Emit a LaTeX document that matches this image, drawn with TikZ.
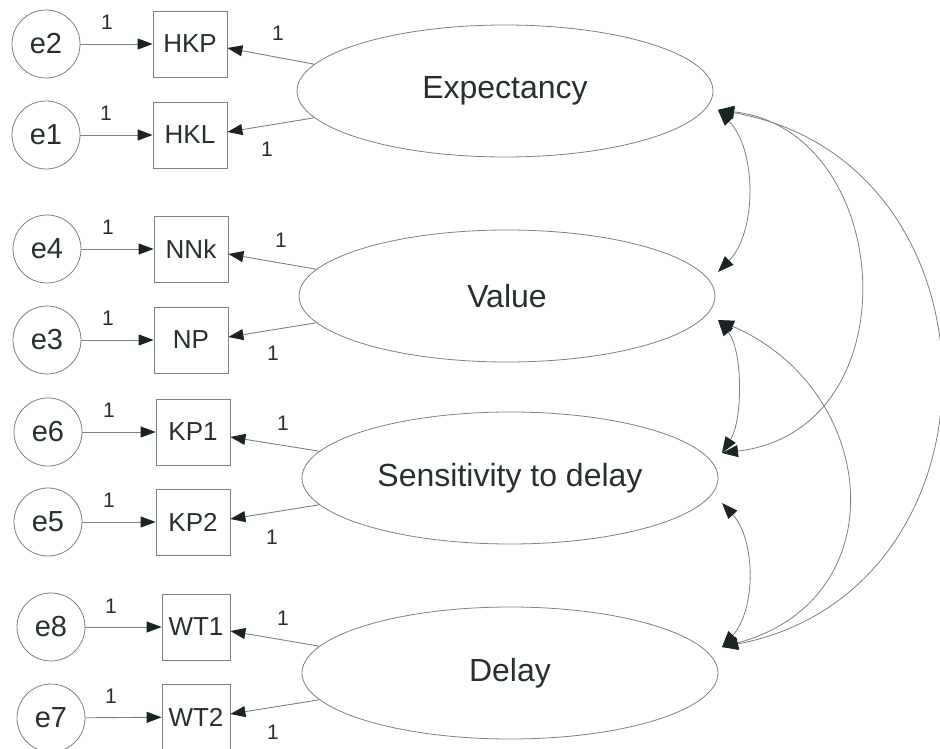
\documentclass[tikz,border=0pt]{standalone}
\usepackage{fontspec}
\setmainfont{Liberation Sans}
\usetikzlibrary{shapes.geometric,arrows.meta,calc}
\definecolor{linec}{HTML}{7A8284}
\definecolor{tipc}{HTML}{1A2424}
\definecolor{txtc}{HTML}{263030}
\begin{document}
\begin{tikzpicture}[x=1pt,y=-1pt,
  err/.style={circle,draw=linec,line width=0.8pt,minimum size=68pt,inner sep=0pt,text=txtc,font=\fontsize{29}{30}\selectfont},
  obs/.style={rectangle,draw=linec,line width=0.8pt,minimum width=74pt,minimum height=66pt,inner sep=0pt,text=txtc,font=\fontsize{26}{28}\selectfont},
  lat/.style={ellipse,draw=linec,line width=0.8pt,minimum width=416pt,minimum height=132pt,inner sep=0pt,text=txtc,font=\fontsize{32}{34}\selectfont},
  one/.style={text=txtc,font=\fontsize{21}{22}\selectfont,inner sep=0pt},
  arr/.style={draw=linec,line width=0.9pt,-{Triangle[length=15pt,width=11pt,color=tipc]}},
  cov/.style={draw=linec,line width=0.8pt,{Triangle[length=16pt,width=12pt,color=tipc]}-{Triangle[length=16pt,width=12pt,color=tipc]}},
]
\useasboundingbox (0,0) rectangle (940,749);
\fill[white] (0,0) rectangle (940,749);

% latent variables
\node[lat] (Exp) at (505,91) {Expectancy};
\node[lat] (Val) at (507,296) {Value};
\node[lat] (Sen) at (510,478) {Sensitivity to delay};
\node[lat] (Del) at (510,673) {Delay};

% observed variables
\node[obs] (HKP) at (190,44) {HKP};
\node[obs] (HKL) at (190,135) {HKL};
\node[obs] (NNk) at (191,249) {NNk};
\node[obs] (NP)  at (191,340) {NP};
\node[obs] (KP1) at (193,432) {KP1};
\node[obs] (KP2) at (193,522) {KP2};
\node[obs,minimum width=68pt] (WT1) at (196,627) {WT1};
\node[obs,minimum width=68pt] (WT2) at (196,717) {WT2};

% error terms
\node[err] (e2) at (46,44) {e2};
\node[err] (e1) at (46,135) {e1};
\node[err] (e4) at (47,249) {e4};
\node[err] (e3) at (47,340) {e3};
\node[err] (e6) at (48,432) {e6};
\node[err] (e5) at (48,522) {e5};
\node[err] (e8) at (51,627) {e8};
\node[err] (e7) at (51,718) {e7};

% error -> indicator
\draw[arr] (e2) -- (HKP);
\draw[arr] (e1) -- (HKL);
\draw[arr] (e4) -- (NNk);
\draw[arr] (e3) -- (NP);
\draw[arr] (e6) -- (KP1);
\draw[arr] (e5) -- (KP2);
\draw[arr] (e8) -- (WT1);
\draw[arr] (e7) -- (WT2);

\node[one] (l2) at (107,22) {1};
\node[one] (l1) at (106,113) {1};
\node[one] (l4) at (108,227) {1};
\node[one] (l3) at (108,318) {1};
\node[one] (l6) at (109,410) {1};
\node[one] (l5) at (109,500) {1};
\node[one] (l8) at (111,606) {1};
\node[one] (l7) at (111,696) {1};

% latent -> indicator
\draw[arr] (Exp.172) -- ([yshift=-4pt]HKP.east);
\draw[arr] (Exp.188) -- ([yshift=3pt]HKL.east);
\draw[arr] (Val.172) -- ([yshift=-5pt]NNk.east);
\draw[arr] (Val.188) -- ([yshift=3pt]NP.east);
\draw[arr] (Sen.172) -- ([yshift=-5pt]KP1.east);
\draw[arr] (Sen.188) -- ([yshift=3pt]KP2.east);
\draw[arr] (Del.172) -- ([yshift=-4pt]WT1.east);
\draw[arr] (Del.188) -- ([yshift=3pt]WT2.east);

\node[one] (m1) at (278,33) {1};
\node[one] (m2) at (267,149) {1};
\node[one] (m3) at (281,240) {1};
\node[one] (m4) at (273,353) {1};
\node[one] (m5) at (283,423) {1};
\node[one] (m6) at (272,537) {1};
\node[one] (m7) at (283,618) {1};
\node[one] (m8) at (273,732) {1};

% covariance attachment points
\coordinate (ExpR)  at (718,110);
\coordinate (ValT)  at (718,272);
\coordinate (ValB)  at (718,320);
\coordinate (SenT)  at (722,453);
\coordinate (SenB)  at (722,503);
\coordinate (DelT)  at (722,647);

% covariances
\draw[cov] (ExpR) .. controls (757,150) and (757,232) .. (ValT);
\draw[cov] (ExpR) .. controls (895,130) and (915,430) .. (SenT);
\draw[cov] (ExpR) .. controls (1010,161) and (1013,591) .. (DelT);
\draw[cov] (ValB) .. controls (743,350) and (743,420) .. (SenT);
\draw[cov] (ValB) .. controls (880,390) and (898,600) .. (DelT);
\draw[cov] (SenB) .. controls (756,540) and (756,610) .. (DelT);
\end{tikzpicture}
\end{document}
